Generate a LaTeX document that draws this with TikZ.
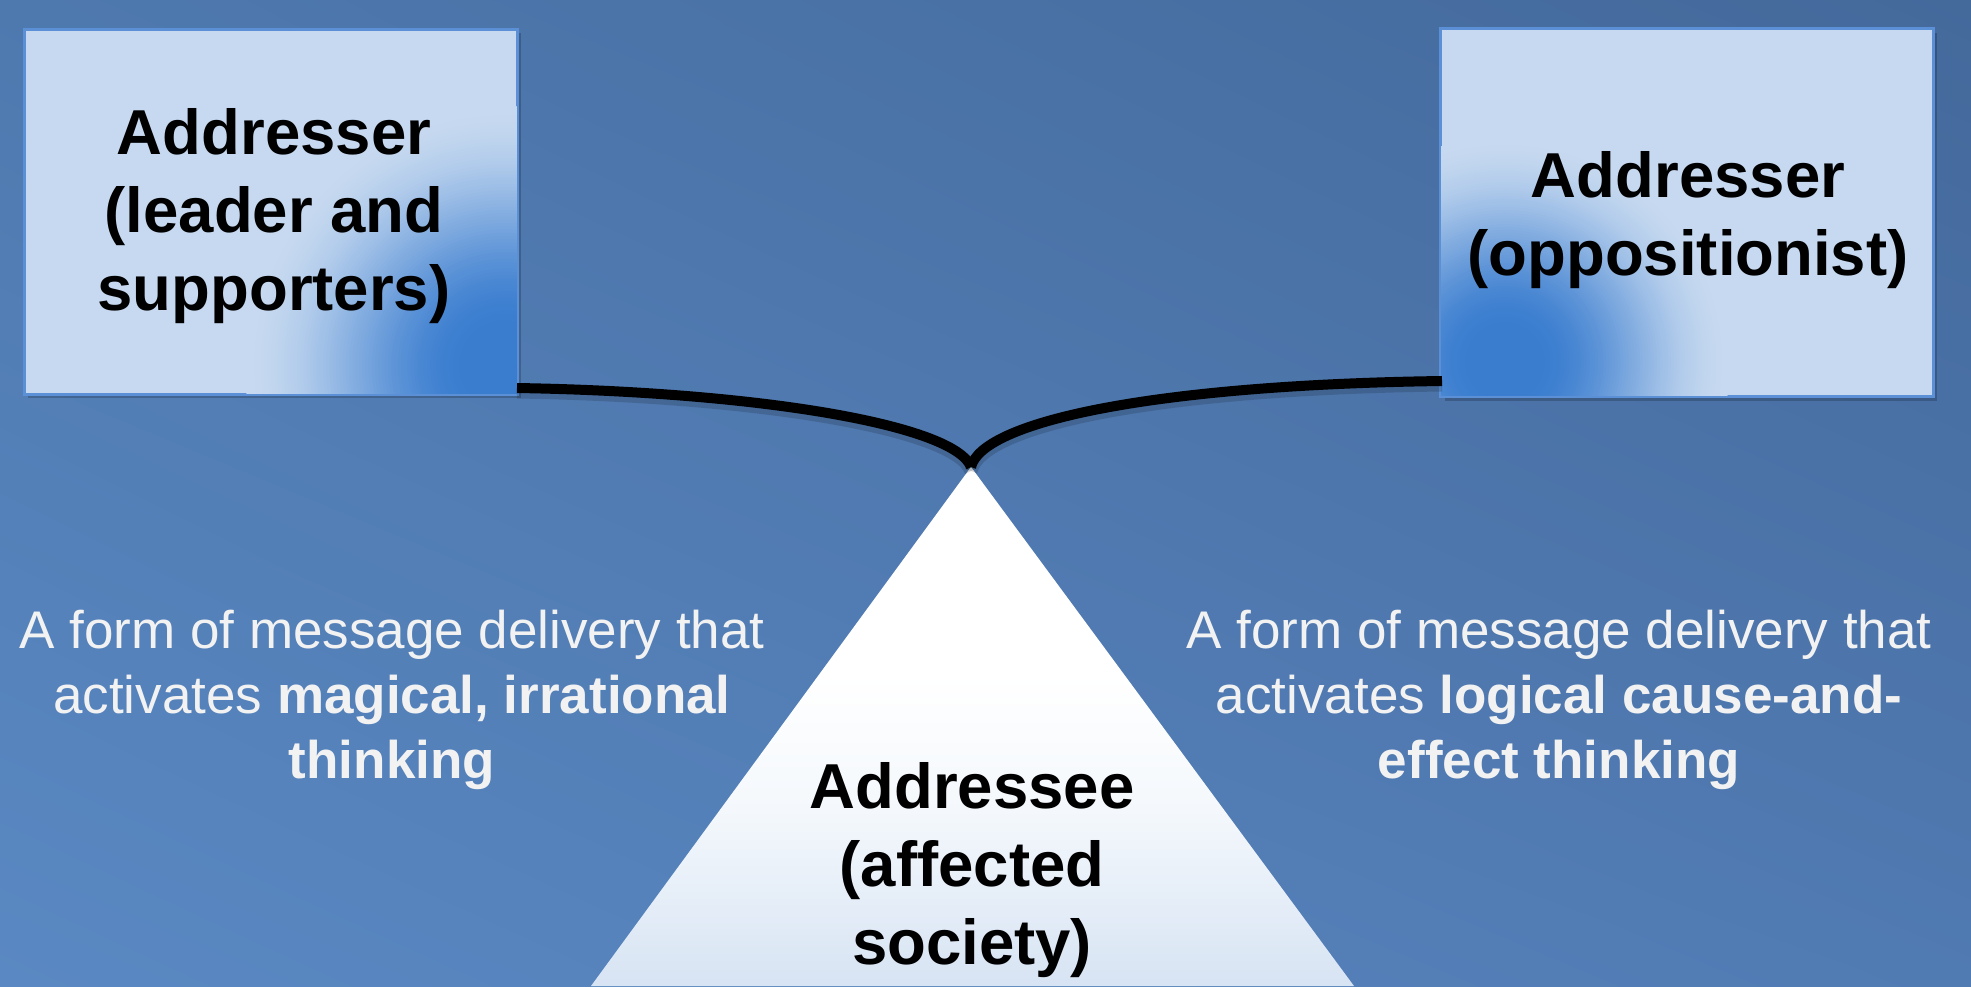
\documentclass[tikz,border=0pt]{standalone}
\usepackage{fontspec}
\setmainfont{Liberation Sans}
\usetikzlibrary{shadings}
\definecolor{bgBL}{HTML}{5A88C2}
\definecolor{bgTL}{HTML}{4E79AF}
\definecolor{bgBR}{HTML}{507AB2}
\definecolor{bgTR}{HTML}{44699B}
\definecolor{boxlight}{HTML}{C6D9F0}
\definecolor{glowblue}{HTML}{3A7DCF}
\definecolor{boxedge}{HTML}{5B90D6}
\definecolor{tribottom}{HTML}{ADC4E4}
\definecolor{trimid}{HTML}{D2E0F2}
\definecolor{trihigh}{HTML}{F4F8FC}
\definecolor{msgtext}{HTML}{F2F2F2}
\pgfdeclareverticalshading{trishade}{100bp}{color(0bp)=(tribottom); color(22bp)=(trimid); color(42bp)=(trihigh); color(55bp)=(white); color(100bp)=(white)}
\newcommand{\cornerglow}[2]{% center, radius
  \foreach \i in {0,...,79}{%
    \pgfmathsetmacro\glowr{#2/80*(80-\i)}%
    \pgfmathsetmacro\glowt{min(1,\i/68)}%
    \pgfmathsetmacro\glowp{100*(3*\glowt*\glowt-2*\glowt*\glowt*\glowt)}%
    \fill[glowblue!\glowp!boxlight] (#1) circle[radius=\glowr pt];
  }}
\begin{document}
\begin{tikzpicture}[x=1pt,y=-1pt,
  boxframe/.style={draw=boxedge, line width=2pt, minimum width=492pt, minimum height=364pt, inner sep=0pt},
  boxtext/.style={align=center, font=\fontsize{63.5}{78}\selectfont\bfseries, text=black},
  msg/.style={align=center, font=\fontsize{53}{65}\selectfont, text=msgtext},
  link/.style={line width=10pt, black},
  linkshadow/.style={line width=13pt, black, opacity=0.15}]
\useasboundingbox (0,0) rectangle (1971,986);
\shade[lower left=bgBL, lower right=bgBR, upper left=bgTL, upper right=bgTR] (0,0) rectangle (1971,986);

% coordinates
\coordinate (apex) at (971,467);
\coordinate (triL) at (591,986);
\coordinate (triR) at (1354,986);

% triangle
\shade[shading=trishade] (apex) -- (triL) -- (triR) -- cycle;

% box shadows
\fill[black, opacity=0.2] (28,33) rectangle (521,398);
\fill[black, opacity=0.2] (1445,33) rectangle (1937,401);

% left box
\node[boxframe, fill=boxlight] (lbox) at (271,211.5) {};
\coordinate (lglow) at (505,366);
\begin{scope}
\clip (lbox.south west) rectangle (lbox.north east);
\cornerglow{lglow}{260}
\end{scope}
\draw[boxedge, line width=2pt] (lbox.south west) rectangle (lbox.north east);
\node[boxtext] (ltext) at (274,216) {Addresser\\(leader and\\supporters)};

% right box
\node[boxframe, fill=boxlight, minimum height=367pt] (rbox) at (1687,212.5) {};
\coordinate (rglow) at (1505,362);
\begin{scope}
\clip (rbox.south west) rectangle (rbox.north east);
\cornerglow{rglow}{225}
\end{scope}
\draw[boxedge, line width=2pt] (rbox.south west) rectangle (rbox.north east);
\node[boxtext] (rtext) at (1688,220) {Addresser\\(oppositionist)};

% connectors
\coordinate (lstart) at (517,388);
\coordinate (rstart) at (1442,381);
\draw[linkshadow] ([yshift=-4pt]lstart) .. controls ([yshift=-4pt]760,392) and ([yshift=-4pt]955,425) .. ([yshift=-4pt]apex);
\draw[linkshadow] ([yshift=-4pt]apex) .. controls ([yshift=-4pt]982,422) and ([yshift=-4pt]1150,385) .. ([yshift=-4pt]rstart);
\draw[link] (lstart) .. controls (760,392) and (955,425) .. (apex);
\draw[link] (apex) .. controls (982,422) and (1150,385) .. (rstart);

% texts
\node[msg] (lmsg) at (392,700) {A form of message delivery that\\activates \textbf{magical, irrational}\\\textbf{thinking}};
\node[msg] (rmsg) at (1559,700) {A form of message delivery that\\activates \textbf{logical cause-and-}\\\textbf{effect thinking}};
\node[boxtext] (addressee) at (972,870) {Addressee\\(affected\\society)};
\end{tikzpicture}
\end{document}
